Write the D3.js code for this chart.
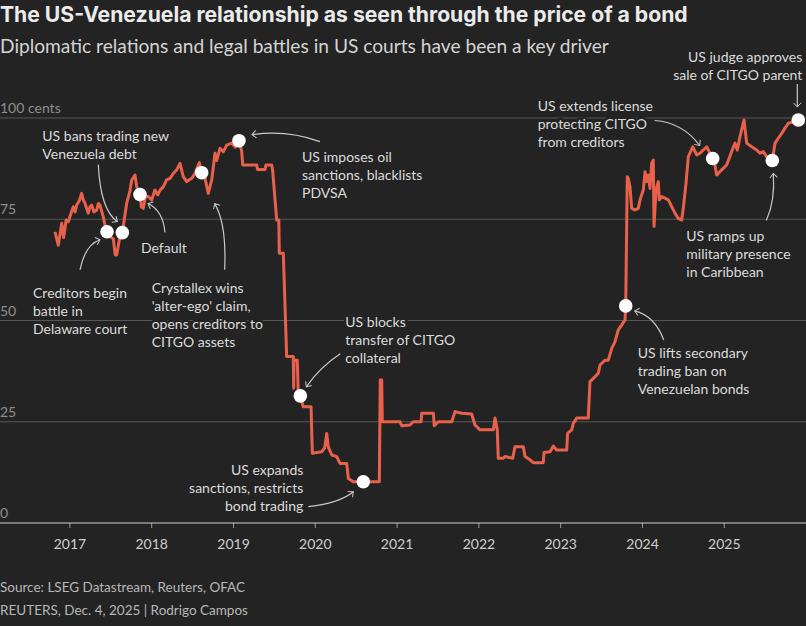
<!DOCTYPE html>
<html>
<head>
<meta charset="utf-8">
<script src="https://cdn.jsdelivr.net/npm/d3@7"></script>
<style>
body{margin:0;background:#232323;}
svg{display:block;font-family:Lato,"Noto Sans",sans-serif;}
</style>
</head>
<body>
<div id="main_div"></div>
<script>
// bond price (cents on the dollar), dates as decimal years
let years=[2016.824,2016.864,2016.906,2016.93,2016.96,2016.987,2017.02,2017.048,2017.07,2017.089,2017.12,2017.150,2017.17,2017.191,2017.231,2017.25,2017.273,2017.30,2017.334,2017.355,2017.374,2017.414,2017.440,2017.460,2017.496,2017.537,2017.560,2017.578,2017.610,2017.647,2017.700,2017.740,2017.762,2017.802,2017.823,2017.863,2017.880,2017.903,2017.93,2017.965,2018.006,2018.046,2018.08,2018.108,2018.148,2018.189,2018.230,2018.270,2018.312,2018.352,2018.392,2018.434,2018.495,2018.535,2018.588,2018.617,2018.658,2018.698,2018.740,2018.780,2018.80,2018.841,2018.882,2018.923,2018.984,2019.03,2019.073,2019.106,2019.119,2019.290,2019.300,2019.391,2019.403,2019.473,2019.485,2019.534,2019.560,2019.566,2019.615,2019.627,2019.656,2019.737,2019.742,2019.746,2019.758,2019.786,2019.798,2019.823,2019.859,2019.954,2019.970,2020.084,2020.12,2020.146,2020.165,2020.207,2020.268,2020.308,2020.390,2020.410,2020.471,2020.593,2020.789,2020.800,2020.818,2020.825,2020.879,2021.0,2021.042,2021.062,2021.164,2021.204,2021.300,2021.307,2021.449,2021.461,2021.510,2021.674,2021.714,2021.796,2021.918,2021.958,2022.020,2022.182,2022.203,2022.231,2022.243,2022.304,2022.325,2022.419,2022.447,2022.549,2022.570,2022.631,2022.671,2022.793,2022.802,2022.875,2022.916,2022.957,2023.080,2023.090,2023.141,2023.160,2023.202,2023.343,2023.364,2023.405,2023.466,2023.487,2023.548,2023.588,2023.630,2023.670,2023.710,2023.752,2023.792,2023.801,2023.820,2023.833,2023.853,2023.874,2023.914,2023.955,2023.976,2024.016,2024.037,2024.057,2024.077,2024.098,2024.118,2024.138,2024.147,2024.171,2024.199,2024.211,2024.241,2024.281,2024.322,2024.363,2024.403,2024.444,2024.485,2024.505,2024.538,2024.566,2024.620,2024.669,2024.709,2024.749,2024.791,2024.864,2024.892,2024.913,2024.974,2025.035,2025.096,2025.137,2025.165,2025.198,2025.247,2025.280,2025.341,2025.402,2025.443,2025.483,2025.525,2025.593,2025.626,2025.666,2025.708,2025.748,2025.789,2025.850,2025.911];
let prices=[71.9,68.6,74,70.5,74.8,74.4,76.5,78.1,76.8,78.5,79.5,81.4,79.8,78.9,76.5,78.0,78.5,76.8,77.3,78.9,78.5,75.6,73.0,71.9,70.7,70.2,66.2,66.2,69.9,71.7,78.9,82.0,84.7,85.9,83.0,81.1,78.0,77.7,80.6,80.6,79.8,82.2,81.0,82.2,83.0,84.7,85.1,86.3,87.2,88.8,85.5,84.3,85.1,86.3,89.0,86.5,85.1,81.4,84.7,91.3,89.5,92.5,91.7,93.3,93.8,92.8,94.4,91.8,88.4,88.4,87.3,87.3,88.4,88.4,87.0,74.8,74.8,66.6,66.6,59.2,41.1,41.1,33.3,39.8,40.2,40.2,31.6,31.4,28.7,28.7,17.2,17.6,18.5,22.1,18.8,16.8,16.4,14.7,14.7,11.0,10.2,10.2,10.2,35.3,35.3,25.0,25.0,25.0,25.0,24.0,24.2,25.0,25.0,27.1,27.1,24.0,25.0,25.0,27.5,27.1,26.9,24.2,23.0,23.0,25.9,23.0,16.0,16.0,16.4,16.0,18.8,18.8,16.4,15.6,14.9,14.9,17.4,17.6,19.0,18.0,18.0,22.1,23.0,24.6,25.9,25.9,34.9,35.7,37.0,39.0,40.2,40.2,43.1,44.8,47.7,48.9,50.1,53.6,85.5,85.0,83.0,77.7,77.3,77.7,79.8,82.2,86.7,84.3,85.9,82.6,88.8,89.6,73.2,82.2,84.3,79.8,80.6,80.2,79.8,78.1,76.5,75.2,74.8,77.7,83.9,90.4,92.9,90.9,91.3,92.1,92.9,90.0,88.4,85.9,87.2,88.4,91.7,93.8,92.1,95.4,99.5,93.8,92.9,92.1,91.3,91.7,90.4,89.5,93.8,95.0,96.2,97.5,98.7,99.1,99.5];

let tickYears=[2017,2018,2019,2020,2021,2022,2023,2024,2025];
let tickValues=[0,25,50,75,100];
let tickLabels=["0","25","50","75","100 cents"];

let eventYears=[2017.460,2017.647,2017.863,2018.617,2019.073,2019.823,2020.593,2023.801,2024.864,2025.593,2025.911];
let eventPrices=[71.9,71.7,81.1,86.5,94.4,31.4,10.2,53.6,90.0,89.5,99.5];
let eventLabels=[
    ["Creditors begin","battle in","Delaware court"],
    ["US bans trading new","Venezuela debt"],
    ["Default"],
    ["Crystallex wins","'alter-ego' claim,","opens creditors to","CITGO assets"],
    ["US imposes oil","sanctions, blacklists","PDVSA"],
    ["US blocks","transfer of CITGO","collateral"],
    ["US expands","sanctions, restricts","bond trading"],
    ["US lifts secondary","trading ban on","Venezuelan bonds"],
    ["US extends license","protecting CITGO","from creditors"],
    ["US ramps up","military presence","in Caribbean"],
    ["US judge approves","sale of CITGO parent"]
];

// label placement relative to each dot: text offset, anchor, arrow start / control / end
let notePos=[
    {tx:-74,ty:66,a:"start",p:[[-27,38],[-22,13],[-7,8]]},
    {tx:-80,ty:-92,a:"start",p:[[-24,-68],[-22,-23],[-5,-11]]},
    {tx:1,ty:58,a:"start",p:[[25,38],[23,16],[8,9]]},
    {tx:-50,ty:120,a:"start",p:[[23,97],[25,51],[13,31]]},
    {tx:63,ty:21,a:"start",p:[[81,1],[48,-11],[13,-6]]},
    {tx:45,ty:-69,a:"start",p:[[40,-42],[20,-29],[6,-9]]},
    {tx:-60,ty:-7,a:"end",p:[[-55,25],[-23,21],[-10,10]]},
    {tx:12,ty:52,a:"start",p:[[38,34],[29,10],[9,5]]},
    {tx:-175,ty:-48,a:"start",p:[[-58,-38],[-30,-36],[-13,-13]]},
    {tx:-86,ty:80,a:"start",p:[[-6,60],[3,40],[1,13]]},
    {tx:4,ty:-58,a:"end",p:[[-1,-36],[-1,-24],[-1,-13]]}
];

let size=[806,626];
let bg="#232323";
let xScale,yScale,svg;

render();

function render(){
    createSVG();
    drawHeader();
    drawAxes();
    drawLine();
    drawNotes();
    drawFooter();
}

function createSVG(){
    svg=d3.select("#main_div")
        .append("svg")
        .attr("width",size[0])
        .attr("height",size[1])
        .attr("id","main_svg");
    svg.append("rect").attr("width",size[0]).attr("height",size[1]).attr("fill",bg);

    let defs=svg.append("defs");
    defs.append("marker")
        .attr("id","arrow")
        .attr("viewBox","-6 -6 12 12")
        .attr("markerWidth",10)
        .attr("markerHeight",10)
        .attr("markerUnits","userSpaceOnUse")
        .attr("orient","auto")
        .append("path")
        .attr("d","M-5,-4.5L0,0L-5,4.5")
        .attr("fill","none")
        .attr("stroke","#c8c8c8")
        .attr("stroke-width",1.2);
}

/**shrink/grow a text's font so it spans a given width */
function fitWidth(sel,w){
    let fs=parseFloat(sel.style("font-size"));
    let len=sel.node().getComputedTextLength();
    sel.style("font-size",(fs*w/len).toFixed(2)+"px");
}

function drawHeader(){
    let title=svg.append("text")
        .attr("x",0).attr("y",22)
        .attr("fill","#ebebeb")
        .style("font-family","Inter, Lato, sans-serif")
        .style("font-size","20px")
        .style("font-weight","bold")
        .text("The US-Venezuela relationship as seen through the price of a bond");
    fitWidth(title,688);
    let sub=svg.append("text")
        .attr("x",0).attr("y",53)
        .attr("fill","#d4d4d4")
        .style("font-size","19px")
        .text("Diplomatic relations and legal battles in US courts have been a key driver");
    fitWidth(sub,609);
}

function drawAxes(){
    xScale=d3.scaleLinear().domain([2017,2025]).range([69.4,723.8]);
    yScale=d3.scaleLinear().domain([0,100]).range([523,118]);

    /**gridlines + y labels */
    let grid=svg.append("g").attr("id","grid");
    grid.selectAll("line")
        .data(tickValues.filter(d=>d>0))
        .enter().append("line")
        .attr("x1",0).attr("x2",size[0])
        .attr("y1",d=>yScale(d)).attr("y2",d=>yScale(d))
        .attr("stroke","#575757")
        .attr("stroke-width",1);
    grid.selectAll("text")
        .data(tickValues)
        .enter().append("text")
        .attr("x",0)
        .attr("y",d=>yScale(d)-5)
        .attr("fill","#8f8f8f")
        .style("font-size","14px")
        .text((d,i)=>tickLabels[i]);

    /**x axis */
    let xAxis=d3.axisBottom(xScale)
        .tickValues(tickYears)
        .tickFormat(d3.format("d"))
        .tickSize(5)
        .tickPadding(11);
    let xc=svg.append("g")
        .attr("id","xaxis")
        .attr("transform","translate(0,"+yScale(0)+")")
        .call(xAxis);
    xc.select(".domain").remove();
    xc.selectAll(".tick line").attr("stroke","#9a9a9a");
    xc.selectAll(".tick text")
        .attr("fill","#cfcfcf")
        .style("font-size","14px")
        .style("font-family","Lato, 'Noto Sans', sans-serif");
    xc.append("line")
        .attr("x1",0).attr("x2",size[0])
        .attr("stroke","#cfcfcf")
        .attr("stroke-width",1.2);
}

function drawLine(){
    let line=d3.line()
        .x((d,i)=>xScale(years[i]))
        .y(d=>yScale(d));
    svg.append("path")
        .datum(prices)
        .attr("d",line)
        .attr("fill","none")
        .attr("stroke","#ea614b")
        .attr("stroke-width",3)
        .attr("stroke-linejoin","round");
}

function drawNotes(){
    let g=svg.append("g").attr("id","notes");
    eventYears.forEach(function(yr,i){
        let cx=xScale(yr), cy=yScale(eventPrices[i]);
        let n=notePos[i];
        let t=g.append("text")
            .attr("x",cx+n.tx)
            .attr("y",cy+n.ty)
            .attr("text-anchor",n.a)
            .attr("fill","#dcdcdc")
            .attr("stroke",bg)
            .attr("stroke-width",5)
            .attr("paint-order","stroke")
            .attr("stroke-linejoin","round")
            .style("font-size","14px");
        eventLabels[i].forEach(function(s,j){
            t.append("tspan").attr("x",cx+n.tx).attr("dy",j==0?0:18).text(s);
        });
        let p=d3.path();
        p.moveTo(cx+n.p[0][0],cy+n.p[0][1]);
        p.quadraticCurveTo(cx+n.p[1][0],cy+n.p[1][1],cx+n.p[2][0],cy+n.p[2][1]);
        g.append("path")
            .attr("d",p.toString())
            .attr("fill","none")
            .attr("stroke","#c8c8c8")
            .attr("stroke-width",1.2)
            .attr("marker-end","url(#arrow)");
    });

    svg.append("g").attr("id","dots")
        .selectAll("circle")
        .data(eventYears)
        .enter().append("circle")
        .attr("cx",d=>xScale(d))
        .attr("cy",(d,i)=>yScale(eventPrices[i]))
        .attr("r",6.8)
        .attr("fill","#ffffff");
}

function drawFooter(){
    svg.append("text")
        .attr("x",0).attr("y",592)
        .attr("fill","#b8b8b8")
        .style("font-size","13.5px")
        .text("Source: LSEG Datastream, Reuters, OFAC");
    svg.append("text")
        .attr("x",0).attr("y",615)
        .attr("fill","#b8b8b8")
        .style("font-size","13.5px")
        .text("REUTERS, Dec. 4, 2025 | Rodrigo Campos");
}
</script>
</body>
</html>
